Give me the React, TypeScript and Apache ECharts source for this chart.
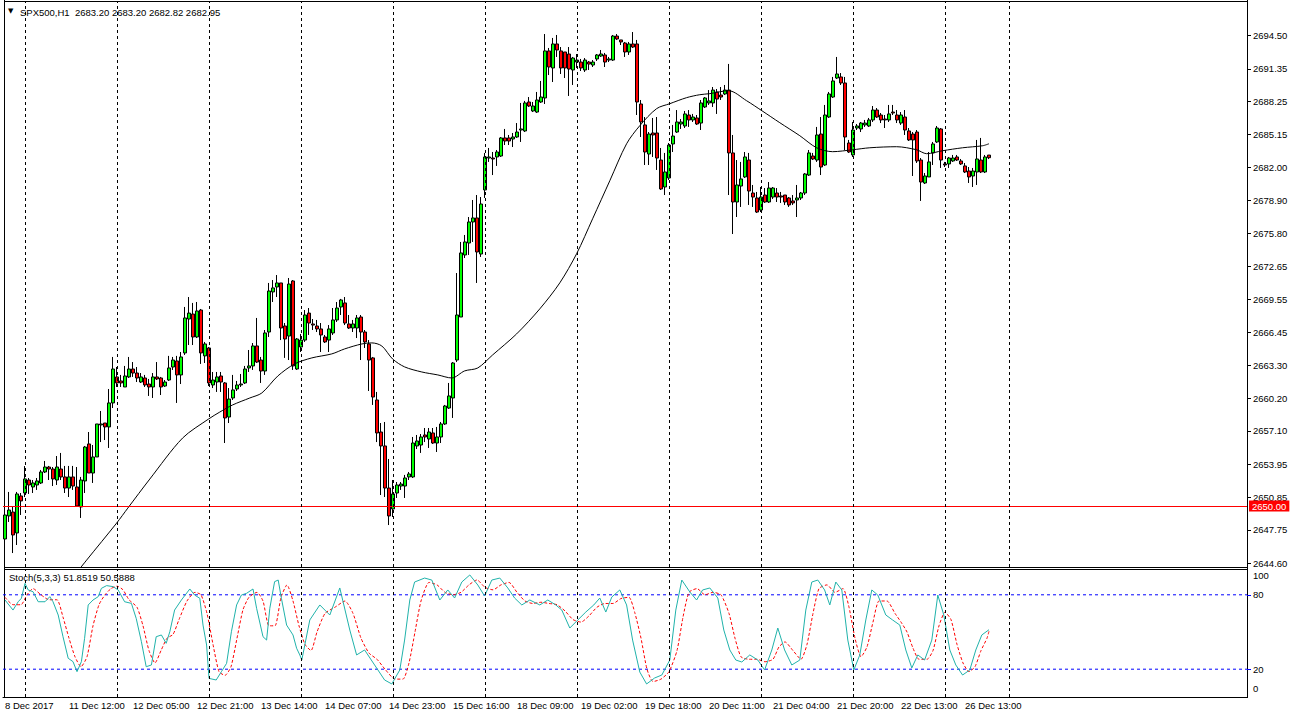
import React, { useEffect, useRef } from 'react';
import * as echarts from 'echarts';

// ---------- data ----------
const symbolName = 'SPX500,H1';
const headerOHLC = [2683.2, 2683.2, 2682.82, 2682.95];
const stochName = 'Stoch(5,3,3)';
const stochLast = [51.8519, 50.5888];

const timeLabels = [
  '8 Dec 2017', '11 Dec 12:00', '12 Dec 05:00', '12 Dec 21:00', '13 Dec 14:00', '14 Dec 07:00',
  '14 Dec 23:00', '15 Dec 16:00', '18 Dec 09:00', '19 Dec 02:00', '19 Dec 18:00', '20 Dec 11:00',
  '21 Dec 04:00', '21 Dec 20:00', '22 Dec 13:00', '26 Dec 13:00',
];
const labelStep = 16;
const slotCount = 311;
const gridBars = [5, 28, 51, 74, 97, 120, 143, 166, 189, 212, 235, 251];

const priceTicks = [
  2644.6, 2647.75, 2650.85, 2653.95, 2657.1, 2660.2, 2663.3, 2666.45, 2669.55,
  2672.65, 2675.8, 2678.9, 2682.0, 2685.15, 2688.25, 2691.35, 2694.5,
];
const priceMin = 2644.23;
const priceMax = 2697.68;
const supportLevel = 2650.0;
const lastPrice = 2682.95;
const stochTicks = [0, 20, 80, 100];
const stochLevels = [20, 80];
const stochAxisMin = -2.42;
const stochAxisMax = 100;

// [open, high, low, close]
const ohlc: number[][] = [
  [2646.88, 2650.10, 2646.03, 2649.15], [2649.06, 2651.33, 2648.49, 2649.62], [2649.43, 2649.91, 2645.55, 2647.26],
  [2647.45, 2651.33, 2646.31, 2651.14], [2650.95, 2651.23, 2649.15, 2650.48], [2651.23, 2653.78, 2650.85, 2652.56],
  [2652.46, 2652.65, 2651.14, 2651.99], [2651.80, 2652.46, 2651.23, 2652.18], [2651.99, 2652.65, 2651.52, 2652.37],
  [2652.18, 2653.41, 2652.08, 2653.22], [2653.22, 2654.26, 2653.12, 2653.69], [2653.69, 2653.79, 2652.46, 2653.50],
  [2653.50, 2653.69, 2651.89, 2652.56], [2652.46, 2654.73, 2651.99, 2653.69], [2653.50, 2655.02, 2652.46, 2652.75],
  [2652.75, 2653.79, 2651.23, 2651.70], [2651.70, 2653.79, 2650.85, 2652.75], [2652.75, 2653.79, 2651.52, 2651.89],
  [2651.80, 2653.69, 2649.91, 2650.00], [2649.91, 2652.75, 2648.87, 2652.46], [2652.37, 2655.68, 2651.23, 2655.58],
  [2655.87, 2657.00, 2653.12, 2653.12], [2653.12, 2655.77, 2652.18, 2654.64], [2654.64, 2657.76, 2654.64, 2657.76],
  [2657.67, 2658.99, 2656.05, 2657.76], [2657.85, 2657.85, 2656.24, 2657.48], [2657.48, 2661.07, 2655.49, 2659.75],
  [2659.75, 2664.10, 2659.27, 2662.96], [2662.21, 2663.15, 2661.26, 2661.64], [2661.83, 2662.40, 2661.26, 2661.64],
  [2661.26, 2663.25, 2661.26, 2662.30], [2662.21, 2664.10, 2662.11, 2662.96], [2662.96, 2663.62, 2662.21, 2662.58],
  [2662.58, 2663.15, 2661.73, 2662.11], [2661.73, 2662.58, 2661.64, 2662.21], [2662.11, 2662.40, 2661.26, 2661.45],
  [2661.54, 2662.02, 2660.41, 2661.26], [2661.26, 2662.58, 2660.22, 2662.21], [2662.21, 2663.62, 2661.92, 2662.02],
  [2662.11, 2662.21, 2660.50, 2661.26], [2661.35, 2661.92, 2661.26, 2661.73], [2661.92, 2664.20, 2661.83, 2663.06],
  [2663.15, 2664.10, 2662.87, 2663.81], [2663.72, 2664.20, 2659.75, 2662.40], [2662.40, 2664.57, 2661.54, 2664.10],
  [2664.48, 2668.83, 2664.29, 2667.79], [2667.69, 2669.77, 2665.23, 2668.25], [2668.16, 2669.21, 2665.23, 2665.99],
  [2665.99, 2669.30, 2665.89, 2668.45], [2668.54, 2668.64, 2663.44, 2664.48], [2664.20, 2665.52, 2663.53, 2665.33],
  [2664.95, 2665.04, 2661.35, 2661.64], [2661.45, 2662.68, 2661.16, 2661.92], [2661.73, 2662.68, 2660.79, 2662.21],
  [2662.30, 2662.68, 2660.79, 2661.73], [2661.64, 2661.73, 2655.96, 2658.33], [2658.42, 2661.16, 2657.85, 2660.12],
  [2660.22, 2662.40, 2660.03, 2660.98], [2661.07, 2661.83, 2660.88, 2661.45], [2661.45, 2662.49, 2661.26, 2661.54],
  [2661.64, 2663.25, 2661.54, 2662.96], [2663.06, 2664.76, 2662.68, 2663.25], [2663.25, 2665.42, 2662.87, 2665.14],
  [2665.14, 2667.79, 2663.53, 2663.62], [2663.81, 2664.10, 2661.64, 2662.77], [2662.77, 2666.65, 2662.40, 2666.37],
  [2666.46, 2671.10, 2665.99, 2670.34], [2670.25, 2671.38, 2669.30, 2670.63], [2670.72, 2671.85, 2669.77, 2671.10],
  [2671.10, 2671.10, 2665.70, 2666.84], [2667.03, 2667.31, 2664.01, 2665.80], [2666.08, 2671.57, 2663.81, 2671.00],
  [2671.29, 2671.38, 2662.87, 2663.25], [2662.96, 2665.89, 2662.87, 2665.80], [2665.04, 2666.27, 2664.57, 2665.70],
  [2665.70, 2668.54, 2665.52, 2668.07], [2668.25, 2668.73, 2666.18, 2667.31], [2667.22, 2667.69, 2666.65, 2667.12],
  [2667.03, 2667.60, 2666.46, 2666.75], [2666.75, 2667.31, 2664.57, 2666.18], [2665.99, 2666.18, 2665.42, 2665.52],
  [2665.70, 2667.12, 2664.57, 2666.75], [2666.37, 2668.73, 2666.18, 2667.60], [2667.60, 2669.30, 2667.41, 2668.73],
  [2668.83, 2669.59, 2668.07, 2669.49], [2669.21, 2669.77, 2667.12, 2667.31], [2667.22, 2668.07, 2666.75, 2666.84],
  [2666.84, 2667.60, 2666.46, 2667.22], [2666.84, 2668.07, 2665.89, 2667.79], [2667.88, 2668.07, 2663.81, 2666.46],
  [2666.46, 2666.65, 2664.95, 2665.52], [2665.33, 2665.70, 2660.88, 2663.81], [2664.01, 2664.10, 2659.56, 2660.31],
  [2660.03, 2660.79, 2656.05, 2656.91], [2657.00, 2657.85, 2651.04, 2655.68], [2655.68, 2657.95, 2650.85, 2651.70],
  [2651.70, 2654.45, 2648.20, 2649.06], [2649.72, 2652.46, 2648.96, 2651.14], [2651.23, 2652.27, 2650.76, 2651.99],
  [2651.89, 2652.27, 2651.52, 2652.08], [2651.89, 2652.94, 2650.76, 2652.65], [2652.75, 2653.22, 2652.46, 2653.03],
  [2652.75, 2656.53, 2652.65, 2655.96], [2655.68, 2656.72, 2655.39, 2656.15], [2655.77, 2656.81, 2655.02, 2656.53],
  [2656.72, 2657.38, 2656.05, 2656.53], [2656.34, 2657.38, 2655.49, 2657.00], [2656.91, 2657.38, 2655.87, 2655.96],
  [2655.96, 2657.48, 2655.11, 2656.53], [2656.53, 2657.95, 2655.96, 2657.76], [2657.76, 2659.56, 2657.67, 2659.46],
  [2659.27, 2661.64, 2659.18, 2660.41], [2660.22, 2663.62, 2658.33, 2663.53], [2663.81, 2672.04, 2663.62, 2668.07],
  [2667.88, 2674.98, 2667.88, 2673.94], [2673.75, 2675.64, 2673.46, 2674.98], [2674.88, 2677.34, 2673.75, 2676.87],
  [2676.87, 2678.95, 2674.98, 2677.25], [2677.25, 2679.42, 2671.10, 2674.03], [2673.84, 2679.23, 2673.56, 2678.57],
  [2679.90, 2683.40, 2679.14, 2683.02], [2682.92, 2683.87, 2682.55, 2683.02], [2682.92, 2683.49, 2681.31, 2682.83],
  [2683.02, 2683.68, 2682.17, 2683.49], [2683.11, 2684.91, 2683.02, 2684.82], [2684.82, 2685.67, 2684.15, 2684.53],
  [2684.82, 2685.10, 2684.15, 2684.53], [2684.72, 2685.29, 2683.96, 2684.91], [2684.91, 2686.23, 2684.82, 2685.38],
  [2685.57, 2688.13, 2684.44, 2685.67], [2685.48, 2688.32, 2685.38, 2688.13], [2688.22, 2688.69, 2687.75, 2687.84],
  [2687.37, 2688.22, 2687.27, 2687.84], [2687.27, 2689.17, 2687.18, 2688.41], [2688.22, 2690.21, 2688.13, 2688.69],
  [2688.60, 2694.65, 2688.03, 2693.05], [2693.05, 2693.33, 2690.77, 2691.53], [2691.44, 2694.28, 2690.11, 2693.71],
  [2693.71, 2694.56, 2692.48, 2693.14], [2693.05, 2693.42, 2690.87, 2691.44], [2692.95, 2692.95, 2690.49, 2691.44],
  [2692.76, 2693.42, 2688.79, 2691.34], [2691.25, 2692.48, 2689.83, 2692.38], [2692.00, 2692.76, 2691.44, 2692.19],
  [2692.00, 2692.29, 2691.15, 2691.44], [2691.25, 2692.38, 2691.06, 2692.19], [2692.00, 2692.10, 2691.25, 2691.81],
  [2691.72, 2692.19, 2691.53, 2692.00], [2692.29, 2692.76, 2692.10, 2692.67], [2692.57, 2693.14, 2692.48, 2692.76],
  [2692.67, 2692.86, 2691.53, 2692.00], [2692.19, 2692.48, 2692.00, 2692.29], [2692.19, 2694.56, 2692.10, 2694.46],
  [2694.46, 2694.65, 2694.09, 2694.18], [2694.09, 2694.09, 2693.61, 2693.90], [2693.80, 2693.90, 2692.48, 2692.95],
  [2692.95, 2693.90, 2692.67, 2693.71], [2693.71, 2694.84, 2693.33, 2693.42], [2693.71, 2694.09, 2686.99, 2688.22],
  [2688.03, 2688.41, 2684.91, 2686.33], [2686.05, 2686.80, 2682.26, 2683.49], [2683.30, 2685.38, 2682.26, 2685.19],
  [2685.29, 2686.71, 2683.02, 2685.10], [2685.29, 2686.80, 2681.79, 2682.92], [2682.73, 2683.87, 2679.90, 2679.99],
  [2680.18, 2683.40, 2679.42, 2681.60], [2681.03, 2684.34, 2680.84, 2684.15], [2684.25, 2686.05, 2683.49, 2685.00],
  [2685.38, 2687.46, 2685.29, 2686.33], [2686.14, 2686.61, 2685.67, 2686.33], [2685.95, 2687.37, 2685.76, 2687.09],
  [2686.99, 2687.46, 2685.86, 2686.52], [2686.52, 2687.09, 2686.33, 2686.80], [2686.71, 2686.99, 2686.05, 2686.14],
  [2686.23, 2688.41, 2685.57, 2688.13], [2687.75, 2688.69, 2687.65, 2688.60], [2688.13, 2689.35, 2687.94, 2688.32],
  [2688.13, 2689.64, 2687.75, 2689.35], [2689.17, 2689.45, 2687.09, 2688.50], [2688.88, 2689.64, 2688.41, 2688.69],
  [2688.98, 2689.83, 2688.88, 2689.35], [2689.35, 2691.82, 2679.42, 2683.40], [2683.40, 2685.10, 2675.73, 2678.76],
  [2678.76, 2682.73, 2677.34, 2680.37], [2680.27, 2682.55, 2678.29, 2680.94], [2681.13, 2683.49, 2681.03, 2683.02],
  [2682.73, 2683.40, 2678.48, 2679.80], [2679.61, 2680.37, 2678.29, 2679.23], [2679.14, 2679.71, 2677.72, 2677.81],
  [2678.00, 2680.18, 2677.81, 2679.23], [2679.42, 2680.08, 2678.67, 2678.76], [2678.76, 2680.65, 2678.67, 2680.08],
  [2679.23, 2680.18, 2679.05, 2680.08], [2679.61, 2680.08, 2678.76, 2679.23], [2679.33, 2679.71, 2678.67, 2679.23],
  [2679.42, 2679.42, 2678.48, 2678.76], [2679.14, 2679.23, 2678.29, 2678.48], [2678.86, 2679.42, 2678.48, 2678.67],
  [2678.95, 2680.37, 2677.34, 2679.14], [2679.14, 2679.71, 2678.95, 2679.61], [2679.61, 2681.50, 2679.42, 2681.41],
  [2681.31, 2683.68, 2681.22, 2683.40], [2683.11, 2683.40, 2682.73, 2682.83], [2682.73, 2685.86, 2682.55, 2685.10],
  [2685.19, 2686.80, 2681.31, 2682.07], [2682.26, 2687.94, 2682.17, 2686.99], [2686.80, 2689.17, 2686.71, 2688.98],
  [2688.69, 2690.59, 2688.60, 2690.21], [2690.49, 2692.48, 2690.40, 2690.87], [2690.59, 2690.96, 2689.83, 2690.02],
  [2690.02, 2690.59, 2683.68, 2684.91], [2684.34, 2684.63, 2683.40, 2683.49], [2683.21, 2686.33, 2683.02, 2685.57],
  [2685.76, 2686.14, 2685.57, 2685.95], [2685.67, 2686.33, 2685.38, 2686.23], [2686.05, 2686.52, 2685.86, 2686.23],
  [2685.95, 2686.71, 2685.86, 2686.52], [2686.52, 2687.84, 2686.33, 2687.46], [2687.46, 2687.65, 2686.71, 2686.80],
  [2686.99, 2687.18, 2686.23, 2686.52], [2686.61, 2686.99, 2685.76, 2686.52], [2686.52, 2687.94, 2686.33, 2687.09],
  [2687.27, 2687.94, 2686.99, 2687.18], [2686.99, 2687.46, 2686.23, 2686.52], [2686.23, 2687.27, 2686.05, 2686.99],
  [2686.80, 2687.46, 2685.10, 2685.57], [2685.48, 2685.76, 2684.53, 2684.63], [2685.19, 2685.38, 2681.22, 2684.63],
  [2685.38, 2685.57, 2682.45, 2682.64], [2682.73, 2682.92, 2678.86, 2680.65], [2680.56, 2681.50, 2680.46, 2681.22],
  [2681.13, 2683.49, 2681.13, 2682.55], [2683.40, 2684.44, 2682.26, 2684.25], [2684.44, 2685.95, 2684.34, 2685.76],
  [2685.67, 2685.76, 2681.98, 2682.73], [2682.36, 2682.55, 2682.07, 2682.26], [2682.36, 2683.02, 2681.98, 2682.92],
  [2682.64, 2683.21, 2682.55, 2682.92], [2683.02, 2683.21, 2682.64, 2682.73], [2682.64, 2682.83, 2682.26, 2682.36],
  [2682.17, 2682.45, 2681.50, 2681.60], [2681.69, 2682.07, 2680.56, 2681.13], [2681.22, 2681.98, 2680.18, 2681.69],
  [2681.60, 2684.63, 2680.37, 2682.83], [2682.73, 2684.82, 2681.50, 2681.60], [2681.60, 2683.21, 2681.50, 2683.02],
  [2683.20, 2683.20, 2682.82, 2682.95],
];

// moving average: [bar, price]
const maLine: number[][] = [
  [16.2, 2642.89], [20.4, 2644.88], [27.9, 2648.38], [30.7, 2649.80], [36.2, 2652.55], [44.4, 2656.43],
  [50.9, 2658.23], [53.7, 2658.89], [56.9, 2659.56], [61.2, 2660.22], [64.2, 2660.69], [68.2, 2662.30],
  [72.4, 2663.44], [76.7, 2664.01], [81.7, 2664.39], [84.9, 2664.86], [89.2, 2665.33], [91.7, 2665.43],
  [94.2, 2665.14], [96.9, 2663.91], [99.9, 2663.16], [104.2, 2662.68], [108.2, 2662.40], [111.7, 2662.11],
  [114.9, 2662.78], [118.2, 2663.06], [121.9, 2664.29], [127.9, 2666.28], [133.7, 2668.65], [138.7, 2671.11],
  [142.9, 2673.86], [146.9, 2677.17], [151.2, 2680.77], [155.4, 2684.27], [158.7, 2685.98], [162.9, 2687.59],
  [166.2, 2688.06], [170.4, 2688.63], [173.7, 2688.91], [176.2, 2689.01], [180.9, 2689.29], [185.4, 2688.34],
  [189.2, 2687.40], [193.7, 2686.26], [198.7, 2685.03], [202.9, 2683.89], [206.9, 2683.52], [211.9, 2683.70],
  [216.2, 2683.89], [222.9, 2683.99], [227.9, 2683.70], [230.4, 2683.33], [234.4, 2683.61], [239.4, 2683.89],
  [244.4, 2684.08], [246, 2684.27],
];

// stochastic main line: [bar, value]
const stochMain: number[][] = [
  [0, 75.8], [2, 67.7], [3.3, 74.4], [4.1, 77.2], [5, 89.2], [5.8, 83.9], [7, 82.5], [8.3, 74.4], [10, 74.4],
  [11.2, 78.5], [12, 74.4], [13.3, 63.7], [14.5, 46.2], [15.8, 28.8], [17, 26.1], [18, 18.0], [19.1, 26.1],
  [19.9, 44.9], [20.8, 71.8], [22, 75.8], [23.3, 78.5], [24.1, 85.2], [25.4, 87.4], [27, 86.6], [28.3, 83.9],
  [29.9, 74.4], [31.6, 73.1], [32.8, 61.0], [34.1, 42.2], [35.3, 22.0], [36.6, 23.4], [37.8, 46.2], [39.1, 47.6],
  [40.3, 40.9], [41.2, 50.2], [42.4, 67.7], [44.1, 75.8], [46.2, 84.7], [47.4, 79.8], [48.7, 77.2], [49.5, 55.6],
  [50.4, 39.5], [51, 12.6], [52.8, 11.3], [54.1, 18.0], [55.4, 24.7], [56.6, 50.2], [57.9, 71.8], [59.1, 79.8],
  [60.4, 81.2], [62, 84.7], [62.9, 69.1], [64.5, 46.2], [65.4, 43.5], [66.2, 69.1], [67.4, 90.6], [68.3, 91.9],
  [69.1, 77.2], [70.4, 55.6], [72, 47.6], [72.9, 36.9], [73.7, 31.5], [74.2, 27.4], [76.2, 59.7], [78.7, 71.8],
  [81.2, 63.7], [83.7, 85.5], [86.2, 51.6], [87.9, 31.5], [89.9, 35.5], [92.4, 23.4], [94.9, 11.3], [96.7, 8.1],
  [98.7, 19.4], [99.9, 43.5], [101.2, 75.8], [102.4, 90.3], [104.9, 93.5], [106.7, 91.9], [108.7, 75.8],
  [110.7, 83.9], [112.4, 77.4], [114.2, 90.3], [116.2, 96.0], [118.2, 87.9], [119.9, 79.0], [121.7, 91.9],
  [123.7, 93.5], [125.7, 85.5], [127.4, 77.4], [129.2, 71.8], [131.2, 75.8], [133.7, 71.8], [135.7, 75.8],
  [137.7, 71.8], [139.2, 67.7], [141.2, 53.2], [143.2, 59.7], [145.2, 66.1], [147.2, 71.8], [148.7, 77.4],
  [150.2, 66.1], [151.7, 78.2], [153.7, 83.9], [155.4, 71.8], [156.9, 43.5], [158.7, 17.7], [160.4, 8.1],
  [162.4, 12.9], [164.2, 15.3], [166.2, 27.4], [167.7, 67.7], [169.2, 91.9], [171.2, 82.3], [172.9, 75.8],
  [174.4, 83.9], [176.2, 85.5], [178.2, 77.4], [179.7, 51.6], [181.2, 35.5], [182.7, 27.4], [184.2, 25.8],
  [186.2, 31.5], [188.2, 27.4], [189.9, 19.4], [191.7, 35.5], [193.2, 53.2], [194.9, 35.5], [196.7, 23.4],
  [198.7, 27.4], [200.2, 67.7], [201.7, 90.3], [203.2, 91.9], [204.9, 83.9], [206.2, 71.8], [207.7, 90.3],
  [209.2, 83.9], [210.7, 43.5], [212.2, 19.4], [213.7, 31.5], [215.2, 59.7], [216.7, 83.9], [218.2, 79.8],
  [220.2, 63.7], [221.9, 59.7], [223.7, 55.6], [225.2, 35.5], [226.7, 21.0], [228.2, 31.5], [229.9, 27.4],
  [231.7, 43.5], [233.2, 79.8], [234.7, 63.7], [236.2, 35.5], [237.7, 23.4], [239.4, 15.3], [241.2, 19.4],
  [242.7, 35.5], [244.2, 47.6], [246, 51.85],
];

// stochastic signal line: [bar, value]
const stochSignal: number[][] = [
  [0, 78], [2, 72], [4, 72], [5.5, 80], [7, 85], [9, 80], [11, 76], [13, 76], [14.5, 62], [16, 45], [17.5, 30],
  [19, 22], [20.5, 30], [22, 55], [23.5, 72], [25, 80], [26.5, 85], [28, 87], [29.5, 84], [31, 76], [33, 70],
  [34.5, 55], [36, 35], [37.5, 25], [39, 35], [40.5, 45], [42, 48], [43.5, 60], [45.5, 75], [47.5, 82], [49, 80],
  [50.5, 65], [52, 40], [53.5, 18], [55, 15], [56.5, 22], [58, 45], [59.5, 68], [61, 78], [63, 82], [64.5, 75],
  [66, 55], [67.5, 55], [69, 78], [70.5, 88], [72, 75], [73.5, 55], [75, 40], [76.5, 35], [78, 50], [80, 65],
  [82.5, 70], [85, 75], [87, 65], [89, 45], [91, 33], [93, 28], [95, 20], [97.5, 12], [99.5, 12], [101, 25],
  [102.5, 50], [104, 75], [106, 90], [108, 88], [110, 82], [112, 80], [114, 82], [116, 88], [118, 92], [120, 86],
  [122, 84], [124, 88], [126, 90], [128, 82], [130, 75], [132, 73], [134, 74], [136, 73], [138, 72], [140, 67],
  [142, 60], [144, 58], [146, 63], [148, 70], [150, 73], [152, 73], [154, 77], [156, 78], [157.5, 65], [159, 45],
  [160.5, 20], [162, 10], [164, 12], [166, 18], [168, 35], [169.5, 62], [171, 82], [173, 85], [175, 80], [177, 82],
  [179, 80], [181, 65], [182.5, 45], [184, 30], [186, 28], [188, 28], [190, 26], [192, 28], [193.5, 38], [195, 42],
  [197, 35], [199, 28], [200.5, 40], [202, 65], [203.5, 85], [205.5, 88], [207.5, 82], [209.5, 85], [211, 70],
  [212.5, 45], [214, 30], [215.5, 38], [217, 58], [218.5, 75], [220.5, 75], [222.5, 65], [224, 58], [225.5, 50],
  [227, 37], [228.5, 28], [230.5, 28], [232, 35], [233.5, 55], [235, 66], [236.5, 60], [238, 40], [239.5, 25],
  [241, 18], [242.5, 22], [244, 35], [245.5, 45], [246, 50.59],
];

// ---------- chart ----------
const FONT = 'Liberation Sans';
const FS = 9.5;

export default function App() {
  const ref = useRef<HTMLDivElement>(null);
  useEffect(() => {
    if (!ref.current) return;
    const chart = echarts.init(ref.current, undefined, { renderer: 'svg' });
    const categories = Array.from({ length: slotCount }, (_, i) => String(i));
    const candleData = ohlc.map(([o, h, l, c]) => [o, c, l, h]);
    const vLines = gridBars.map((b) => ({ xAxis: b }));
    const dash = [3, 3];

    const levelSeries = stochLevels.map((l) => ({
      type: 'line', xAxisIndex: 3, yAxisIndex: 1, z: 1, silent: true, showSymbol: false,
      data: [[-0.5, l], [slotCount - 0.5, l]],
      lineStyle: { color: '#0000ff', width: 1, type: dash },
    }));

    const option: any = {
      animation: false,
      backgroundColor: '#ffffff',
      textStyle: { fontFamily: FONT, fontSize: FS },
      grid: [
        { left: 3, width: 1244, top: 2, height: 565 },
        { left: 3, width: 1244, top: 570, height: 127 },
      ],
      xAxis: [
        { type: 'category', gridIndex: 0, data: categories, boundaryGap: true,
          axisLine: { show: false }, axisTick: { show: false }, axisLabel: { show: false }, splitLine: { show: false } },
        { type: 'value', gridIndex: 0, min: -0.5, max: slotCount - 0.5, show: false, splitLine: { show: false } },
        { type: 'category', gridIndex: 1, data: categories, boundaryGap: true,
          axisLine: { show: true, onZero: false, lineStyle: { color: '#000', width: 1 } },
          axisTick: { show: false },
          axisLabel: {
            show: true, interval: labelStep - 1, align: 'left', margin: 3,
            color: '#000', fontFamily: FONT, fontSize: FS,
            formatter: (_v: string, idx: number) =>
              idx % labelStep === 0 && idx / labelStep < timeLabels.length ? timeLabels[idx / labelStep] : '',
          },
          splitLine: { show: false } },
        { type: 'value', gridIndex: 1, min: -0.5, max: slotCount - 0.5, show: false, splitLine: { show: false } },
      ],
      yAxis: [
        { type: 'value', gridIndex: 0, position: 'right', min: priceMin, max: priceMax, scale: true,
          splitLine: { show: false },
          axisLine: { show: true, onZero: false, lineStyle: { color: '#000', width: 1 } },
          axisTick: { show: true, length: 4, inside: false, lineStyle: { color: '#000' }, customValues: priceTicks },
          axisLabel: { show: true, margin: 6, color: '#000', fontFamily: FONT, fontSize: FS,
            customValues: priceTicks, formatter: (v: number) => v.toFixed(2) } },
        { type: 'value', gridIndex: 1, position: 'right', min: stochAxisMin, max: stochAxisMax,
          splitLine: { show: false },
          axisLine: { show: true, onZero: false, lineStyle: { color: '#000', width: 1 } },
          axisTick: { show: true, length: 4, lineStyle: { color: '#0000ff' }, customValues: stochLevels },
          axisLabel: { show: true, margin: 6, color: '#000', fontFamily: FONT, fontSize: FS,
            customValues: stochTicks, verticalAlignMinLabel: 'bottom', verticalAlignMaxLabel: 'top',
            formatter: (v: number) => String(v) } },
      ],
      series: [
        {
          type: 'candlestick', xAxisIndex: 0, yAxisIndex: 0, data: candleData, barWidth: 3,
          itemStyle: { color: '#00ff00', color0: '#ff0000', borderColor: '#000', borderColor0: '#000',
            borderColorDoji: '#000', borderWidth: 1 },
          markLine: {
            silent: true, symbol: 'none', animation: false,
            data: [
              { yAxis: supportLevel, lineStyle: { color: '#ff0000', width: 1, type: 'solid' },
                label: { show: true, position: 'end', distance: 2, formatter: supportLevel.toFixed(2),
                  color: '#fff', backgroundColor: '#ff0000', padding: [1, 3, 0, 3], fontFamily: FONT, fontSize: FS } },
              { yAxis: lastPrice, lineStyle: { opacity: 0 },
                label: { show: true, position: 'end', distance: 2, formatter: lastPrice.toFixed(2),
                  color: '#fff', backgroundColor: '#000', padding: [1, 3, 0, 3], fontFamily: FONT, fontSize: FS } },
            ],
          },
        },
        {
          type: 'line', xAxisIndex: 1, yAxisIndex: 0, data: maLine, showSymbol: false, smooth: 0.3,
          lineStyle: { color: '#000', width: 1 }, clip: true,
          markLine: { silent: true, symbol: 'none', label: { show: false },
            lineStyle: { color: '#000', width: 1, type: dash }, data: vLines },
        },
        ...levelSeries,
        {
          type: 'line', xAxisIndex: 3, yAxisIndex: 1, data: stochSignal, showSymbol: false, smooth: 0.2,
          lineStyle: { color: '#ff0000', width: 1, type: [3, 2] },
          markLine: { silent: true, symbol: 'none', label: { show: false },
            lineStyle: { color: '#000', width: 1, type: dash }, data: vLines },
        },
        {
          type: 'line', xAxisIndex: 3, yAxisIndex: 1, data: stochMain, showSymbol: false,
          lineStyle: { color: '#20b2aa', width: 1 },
        },
      ],
      graphic: [
        { type: 'line', shape: { x1: 4.5, y1: 0, x2: 4.5, y2: 698 }, style: { stroke: '#000', lineWidth: 1 }, silent: true },
        { type: 'line', shape: { x1: 4, y1: 1.5, x2: 1247, y2: 1.5 }, style: { stroke: '#000', lineWidth: 1 }, silent: true },
        { type: 'line', shape: { x1: 4, y1: 567.5, x2: 1247, y2: 567.5 }, style: { stroke: '#000', lineWidth: 1 }, silent: true },
        { type: 'line', shape: { x1: 4, y1: 569.5, x2: 1247, y2: 569.5 }, style: { stroke: '#000', lineWidth: 1 }, silent: true },
        { type: 'line', shape: { x1: 1247.5, y1: 0, x2: 1247.5, y2: 698 }, style: { stroke: '#000', lineWidth: 1 }, silent: true },
        { type: 'text', left: 8, top: 7, style: { text: '▼', fontSize: 7, fill: '#000', fontFamily: 'DejaVu Sans' }, silent: true },
        { type: 'text', left: 20, top: 7,
          style: { text: `${symbolName}  ${headerOHLC.map((v) => v.toFixed(2)).join(' ')}`,
            fontSize: FS, fill: '#000', fontFamily: FONT }, silent: true },
        { type: 'text', left: 9, top: 572,
          style: { text: `${stochName} ${stochLast[0].toFixed(4)} ${stochLast[1].toFixed(4)}`,
            fontSize: FS, fill: '#000', fontFamily: FONT }, silent: true },
      ],
    };
    chart.setOption(option);
    return () => chart.dispose();
  }, []);
  return <div ref={ref} style={{ position: 'fixed', left: 0, top: 0, width: 1292, height: 719, background: '#fff' }} />;
}
